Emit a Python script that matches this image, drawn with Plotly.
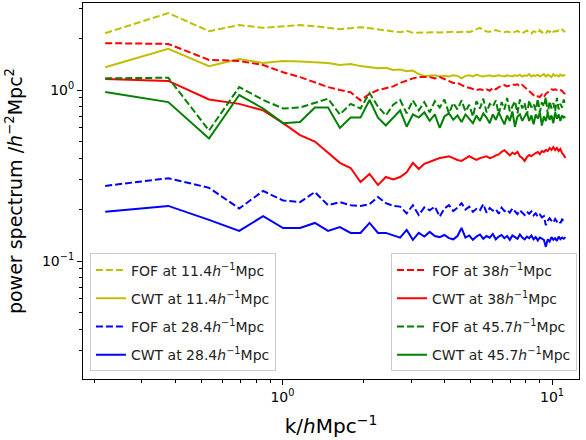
import plotly.graph_objects as go

k = [0.22, 0.377, 0.534, 0.691, 0.848, 1.005, 1.162, 1.319, 1.476, 1.633,
     1.79, 1.947, 2.104, 2.261, 2.418, 2.575, 2.732, 2.889, 3.046, 3.203,
     3.36, 3.517, 3.674, 3.831, 3.988, 4.145, 4.302, 4.459, 4.616, 4.773,
     4.93, 5.087, 5.244, 5.401, 5.558, 5.715, 5.872, 6.029, 6.186, 6.343,
     6.5, 6.657, 6.814, 6.971, 7.128, 7.285, 7.442, 7.599, 7.756, 7.913,
     8.07, 8.227, 8.384, 8.541, 8.698, 8.855, 9.012, 9.169, 9.326, 9.483,
     9.64, 9.797, 9.954, 10.111, 10.268, 10.425, 10.582, 10.739, 10.896, 11.053,
     11.21]

fof_114 = [2.15, 2.82, 2.21, 2.40, 2.31, 2.35, 2.40, 2.36, 2.30, 2.27,
           2.30, 2.33, 2.30, 2.26, 2.22, 2.20, 2.18, 2.22, 2.16, 2.17,
           2.18, 2.19, 2.18, 2.17, 2.18, 2.20, 2.19, 2.18, 2.19, 2.20,
           2.18, 2.22, 2.25, 2.31, 2.24, 2.20, 2.19, 2.22, 2.24, 2.21,
           2.19, 2.18, 2.20, 2.17, 2.16, 2.19, 2.22, 2.17, 2.15, 2.19,
           2.23, 2.16, 2.14, 2.21, 2.18, 2.15, 2.24, 2.17, 2.20, 2.16,
           2.22, 2.18, 2.25, 2.19, 2.21, 2.20, 2.23, 2.21, 2.26, 2.20,
           2.21]

cwt_114 = [1.36, 1.74, 1.38, 1.52, 1.44, 1.48, 1.47, 1.46, 1.44, 1.40,
           1.42, 1.38, 1.36, 1.34, 1.35, 1.31, 1.32, 1.29, 1.30, 1.24,
           1.21, 1.21, 1.22, 1.20, 1.21, 1.20, 1.22, 1.21, 1.17, 1.21,
           1.22, 1.20, 1.23, 1.21, 1.20, 1.21, 1.22, 1.20, 1.21, 1.22,
           1.21, 1.20, 1.22, 1.21, 1.20, 1.22, 1.21, 1.23, 1.20, 1.22,
           1.21, 1.24, 1.20, 1.22, 1.21, 1.23, 1.20, 1.22, 1.24, 1.20,
           1.23, 1.21, 1.19, 1.24, 1.21, 1.22, 1.20, 1.23, 1.21, 1.22,
           1.22]

fof_38 = [1.88, 1.86, 1.50, 1.48, 1.40, 1.27, 1.19, 1.11, 1.04, 1.00,
          0.97, 0.87, 0.95, 1.00, 1.03, 1.05, 1.10, 1.14, 1.17, 1.19,
          1.19, 1.19, 1.17, 1.19, 1.16, 1.13, 1.10, 1.10, 1.07, 1.04,
          1.03, 1.01, 1.00, 1.01, 1.00, 1.01, 0.99, 1.03, 1.01, 1.04,
          1.05, 1.07, 1.05, 1.07, 1.08, 1.07, 1.08, 1.05, 1.07, 1.04,
          1.01, 0.99, 0.96, 0.94, 0.91, 0.92, 0.91, 0.94, 0.91, 0.95,
          0.97, 0.99, 1.01, 1.00, 1.01, 1.00, 1.01, 1.00, 0.99, 0.96,
          0.95]

cwt_38 = [1.16, 1.13, 0.88, 0.83, 0.76, 0.64, 0.545, 0.50, 0.43, 0.375,
          0.35, 0.29, 0.323, 0.278, 0.31, 0.30, 0.31, 0.33, 0.375, 0.345,
          0.37, 0.38, 0.39, 0.40, 0.405, 0.41, 0.40, 0.39, 0.385, 0.40,
          0.41, 0.40, 0.39, 0.40, 0.405, 0.41, 0.40, 0.405, 0.415, 0.42,
          0.435, 0.445, 0.43, 0.415, 0.43, 0.422, 0.435, 0.41, 0.40, 0.385,
          0.405, 0.417, 0.411, 0.422, 0.428, 0.434, 0.422, 0.44, 0.434, 0.446,
          0.44, 0.458, 0.446, 0.464, 0.446, 0.458, 0.44, 0.452, 0.428, 0.417,
          0.40]

fof_457 = [1.17, 1.18, 0.58, 1.04, 0.875, 0.78, 0.79, 0.84, 0.89, 0.72,
           0.83, 0.78, 0.96, 0.80, 0.71, 0.82, 0.875, 0.73, 0.87, 0.76,
           0.85, 0.74, 0.86, 0.79, 0.88, 0.73, 0.84, 0.77, 0.87, 0.75,
           0.82, 0.70, 0.86, 0.78, 0.89, 0.74, 0.83, 0.80, 0.87, 0.72,
           0.85, 0.77, 0.90, 0.75, 0.81, 0.86, 0.73, 0.88, 0.78, 0.84,
           0.71, 0.87, 0.79, 0.83, 0.76, 0.89, 0.74, 0.85, 0.80, 0.91,
           0.72, 0.86, 0.78, 0.84, 0.75, 0.90, 0.77, 0.83, 0.79, 0.88,
           0.81]

cwt_457 = [0.975, 0.85, 0.52, 0.935, 0.78, 0.64, 0.65, 0.79, 0.79, 0.60,
           0.69, 0.69, 0.875, 0.69, 0.62, 0.69, 0.76, 0.61, 0.72, 0.69,
           0.74, 0.66, 0.72, 0.60, 0.70, 0.73, 0.67, 0.71, 0.65, 0.72,
           0.68, 0.64, 0.71, 0.66, 0.73, 0.69, 0.64, 0.72, 0.67, 0.74,
           0.68, 0.63, 0.71, 0.66, 0.75, 0.61, 0.70, 0.72, 0.66, 0.70,
           0.74, 0.66, 0.71, 0.63, 0.72, 0.68, 0.74, 0.62, 0.70, 0.66,
           0.73, 0.67, 0.71, 0.64, 0.74, 0.68, 0.72, 0.66, 0.71, 0.69,
           0.70]

fof_284 = [0.275, 0.305, 0.268, 0.203, 0.257, 0.226, 0.221, 0.253, 0.212, 0.221,
           0.212, 0.21, 0.215, 0.237, 0.218, 0.21, 0.208, 0.19, 0.212, 0.186,
           0.206, 0.198, 0.208, 0.182, 0.203, 0.212, 0.196, 0.205, 0.218, 0.200,
           0.208, 0.194, 0.202, 0.198, 0.215, 0.192, 0.204, 0.197, 0.201, 0.189,
           0.205, 0.196, 0.199, 0.192, 0.203, 0.195, 0.188, 0.198, 0.192, 0.186,
           0.194, 0.189, 0.195, 0.185, 0.190, 0.182, 0.187, 0.180, 0.183, 0.162,
           0.172, 0.178, 0.172, 0.168, 0.176, 0.170, 0.173, 0.167, 0.175, 0.171,
           0.172]

cwt_284 = [0.194, 0.21, 0.174, 0.15, 0.183, 0.156, 0.156, 0.167, 0.15, 0.158,
           0.146, 0.146, 0.167, 0.146, 0.146, 0.141, 0.137, 0.152, 0.133, 0.146,
           0.139, 0.148, 0.140, 0.138, 0.142, 0.136, 0.134, 0.140, 0.156, 0.137,
           0.141, 0.133, 0.139, 0.143, 0.135, 0.140, 0.137, 0.144, 0.134, 0.139,
           0.142, 0.136, 0.140, 0.133, 0.141, 0.138, 0.135, 0.143, 0.137, 0.134,
           0.139, 0.136, 0.141, 0.134, 0.138, 0.132, 0.137, 0.135, 0.133, 0.121,
           0.134, 0.130, 0.138, 0.133, 0.136, 0.131, 0.139, 0.134, 0.137, 0.135,
           0.138]

YEL = "rgb(191,191,0)"
GRN = "rgb(0,128,0)"
FONT = "DejaVu Sans"

series = [
    ("FOF at 11.4<i>h</i><sup>−1</sup>Mpc", fof_114, YEL, "dash", "legend"),
    ("CWT at 11.4<i>h</i><sup>−1</sup>Mpc", cwt_114, YEL, "solid", "legend"),
    ("FOF at 28.4<i>h</i><sup>−1</sup>Mpc", fof_284, "blue", "dash", "legend"),
    ("CWT at 28.4<i>h</i><sup>−1</sup>Mpc", cwt_284, "blue", "solid", "legend"),
    ("FOF at 38<i>h</i><sup>−1</sup>Mpc", fof_38, "red", "dash", "legend2"),
    ("CWT at 38<i>h</i><sup>−1</sup>Mpc", cwt_38, "red", "solid", "legend2"),
    ("FOF at 45.7<i>h</i><sup>−1</sup>Mpc", fof_457, GRN, "dash", "legend2"),
    ("CWT at 45.7<i>h</i><sup>−1</sup>Mpc", cwt_457, GRN, "solid", "legend2"),
]

fig = go.Figure()
for i, (name, vals, col, dash, leg) in enumerate(series):
    fig.add_trace(go.Scatter(
        x=k, y=vals, mode="lines", name=name,
        line=dict(color=col, width=2, dash="7px,3px" if dash == "dash" else "solid"),
        legend=leg, legendgroup=f"g{i}",
    ))

x_minor = [m * 10 ** e for e in (-1, 0, 1) for m in range(2, 10)]
y_minor = [m * 10 ** e for e in (-2, -1, 0) for m in range(2, 10)]

axis_common = dict(
    type="log", showline=True, linecolor="black", linewidth=1, mirror=True,
    ticks="outside", ticklen=5, tickwidth=1, tickcolor="black",
    showgrid=False, zeroline=False, automargin=False,
    tickfont=dict(family=FONT, size=14, color="black"),
)

fig.update_layout(
    width=586, height=440,
    margin=dict(l=83, r=7, t=3, b=61),
    paper_bgcolor="white", plot_bgcolor="white",
    font=dict(family=FONT, color="black"),
    xaxis=dict(
        **axis_common,
        range=[-0.740, 1.100],
        tickvals=[1, 10], ticktext=["10<sup>0</sup>", "10<sup>1</sup>"],
        minor=dict(tickvals=x_minor, ticks="outside", ticklen=3, tickcolor="black", showgrid=False),
        title=dict(text="k/<i>h</i>Mpc<sup>−1</sup>", font=dict(family=FONT, size=20)),
    ),
    yaxis=dict(
        **axis_common,
        range=[-1.690, 0.509],
        tickvals=[0.1, 1], ticktext=["10<sup>−1</sup>", "10<sup>0</sup>"],
        minor=dict(tickvals=y_minor, ticks="outside", ticklen=3, tickcolor="black", showgrid=False),
        title=dict(text="power spectrum /<i>h</i><sup>−2</sup>Mpc<sup>2</sup>",
                   font=dict(family=FONT, size=19), standoff=14),
    ),
    legend=dict(
        x=0.014, y=0.02, xanchor="left", yanchor="bottom",
        bgcolor="rgba(255,255,255,0.8)", bordercolor="#cccccc", borderwidth=1,
        font=dict(family=FONT, size=14, color="#222"), tracegroupgap=7,
    ),
    legend2=dict(
        x=0.996, y=0.02, xanchor="right", yanchor="bottom",
        bgcolor="rgba(255,255,255,0.8)", bordercolor="#cccccc", borderwidth=1,
        font=dict(family=FONT, size=14, color="#222"), tracegroupgap=7,
    ),
    showlegend=True,
)

fig.write_html("out.html", config={"displayModeBar": False},
               post_script="document.body.style.margin='0';document.body.style.overflow='hidden';")
